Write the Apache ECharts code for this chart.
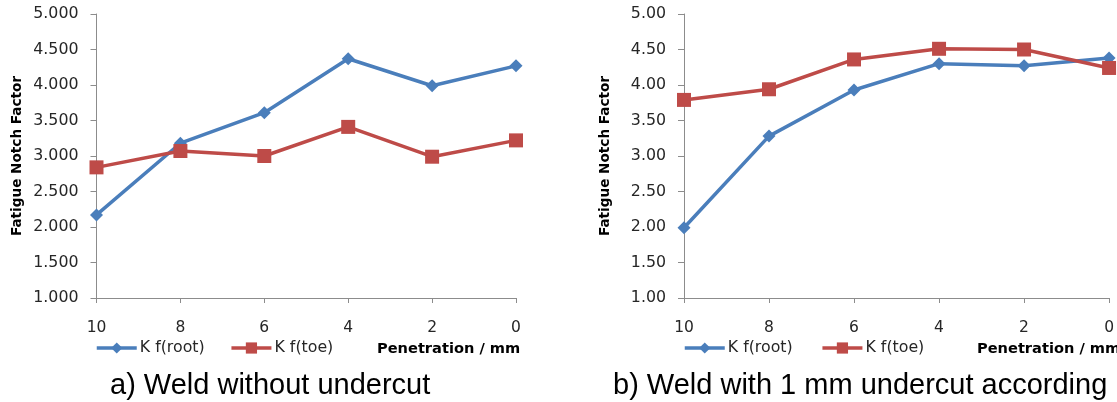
<!DOCTYPE html>
<html>
<head>
<meta charset="utf-8">
<script src="https://cdn.jsdelivr.net/npm/echarts@6/dist/echarts.min.js"></script>
<style>
html,body{margin:0;padding:0;background:#fff;}
#chart{width:1117px;height:402px;}
</style>
</head>
<body>
<div id="chart"></div>
<script>
const penetration = ['10', '8', '6', '4', '2', '0'];
const rootA = [2.17, 3.18, 3.61, 4.37, 3.99, 4.27];
const toeA = [2.84, 3.07, 3.00, 3.41, 2.99, 3.22];
const rootB = [1.99, 3.28, 3.93, 4.30, 4.27, 4.38];
const toeB = [3.79, 3.94, 4.36, 4.51, 4.50, 4.24];
const seriesNames = ['K f(root)', 'K f(toe)'];
const yTicks = { min: 1, max: 5, interval: 0.5 };
const yName = 'Fatigue Notch Factor';
const xName = 'Penetration / mm';
const captions = ['a) Weld without undercut', 'b) Weld with 1 mm undercut according'];

const BLUE = '#4A7EBB', RED = '#BE4B48';
const FONT = 'DejaVu Sans';
const TXT = '#262626';
const AX = '#8C8C8C';

function xAxis(gi) {
  return {
    type: 'category', gridIndex: gi, data: penetration, boundaryGap: false,
    axisLine: { lineStyle: { color: AX, width: 1 } },
    axisTick: { show: true, length: 5, lineStyle: { color: AX } },
    axisLabel: { color: TXT, fontFamily: FONT, fontSize: 15.5, margin: 22 },
    splitLine: { show: false }
  };
}
function yAxis(gi, dec) {
  return {
    type: 'value', gridIndex: gi, min: yTicks.min, max: yTicks.max, interval: yTicks.interval,
    name: yName, nameLocation: 'middle', nameRotate: 90, nameGap: 72,
    nameTextStyle: { color: '#000', fontFamily: FONT, fontWeight: 'bold', fontSize: 13.6 },
    axisLine: { show: true, lineStyle: { color: AX, width: 1 } },
    axisTick: { show: true, length: 6, lineStyle: { color: AX } },
    axisLabel: { color: TXT, fontFamily: FONT, fontSize: 15.8, margin: 18,
      formatter: v => v.toFixed(dec) },
    splitLine: { show: false }
  };
}
function line(name, data, gi, color, symbol, size) {
  return {
    name: name, type: 'line', xAxisIndex: gi, yAxisIndex: gi, data: data,
    symbol: symbol, symbolSize: size, showSymbol: true,
    lineStyle: { color: color, width: 3.5 },
    itemStyle: { color: color },
    emphasis: { disabled: true }, animation: false
  };
}
function legend(left, gap) {
  return {
    left: left, top: 340, padding: 0, itemWidth: 40, itemHeight: 14, itemGap: gap,
    lineStyle: { width: 3.5 },
    textStyle: { color: TXT, fontFamily: FONT, fontSize: 15.8, padding: [0, 0, 0, -2] },
    data: seriesNames.map(n => ({ name: n }))
  };
}

const chart = echarts.init(document.getElementById('chart'), null, { renderer: 'canvas' });
chart.setOption({
  animation: false,
  backgroundColor: '#fff',
  grid: [
    { left: 96.5, right: 601, top: 14, bottom: 104, containLabel: false },
    { left: 684, right: 7, top: 14, bottom: 104, containLabel: false }
  ],
  xAxis: [xAxis(0), xAxis(1)],
  yAxis: [yAxis(0, 3), yAxis(1, 2)],
  legend: [legend(95, 25), legend(683, 28)],
  series: [
    line(seriesNames[0], rootA, 0, BLUE, 'diamond', 13),
    line(seriesNames[1], toeA, 0, RED, 'rect', 14),
    line(seriesNames[0], rootB, 1, BLUE, 'diamond', 13),
    line(seriesNames[1], toeB, 1, RED, 'rect', 14)
  ],
  graphic: [
    { type: 'text', left: 377, top: 342, style: { text: xName, fill: '#000', font: 'bold 14.6px "DejaVu Sans"' } },
    { type: 'text', left: 977, top: 342, style: { text: xName, fill: '#000', font: 'bold 14.6px "DejaVu Sans"' } },
    { type: 'text', left: 110, top: 371, style: { text: captions[0], fill: '#000', font: '29px "Liberation Sans"' } },
    { type: 'text', left: 613, top: 371, style: { text: captions[1], fill: '#000', font: '29px "Liberation Sans"' } }
  ]
});
</script>
</body>
</html>
